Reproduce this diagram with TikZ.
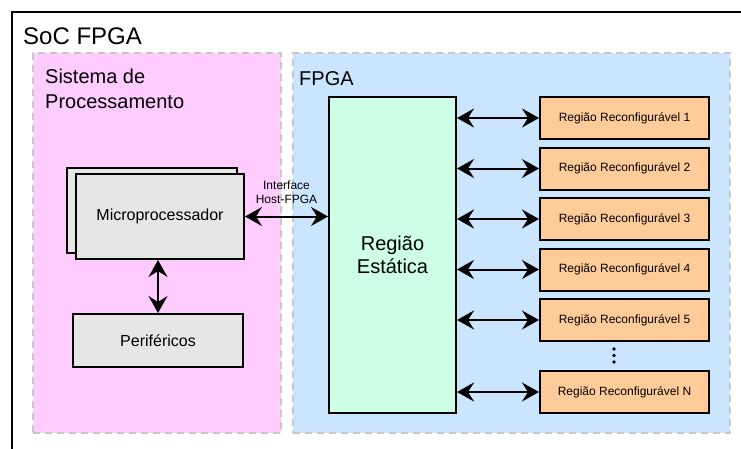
\documentclass[tikz,border=0pt]{standalone}
\usepackage{fontspec}
\setmainfont{Liberation Sans}
\usetikzlibrary{arrows.meta,calc}

\definecolor{psfill}{HTML}{FFCCFF}
\definecolor{fpgafill}{HTML}{CCE5FF}
\definecolor{refill}{HTML}{CCFFE6}
\definecolor{rrfill}{HTML}{FFCC99}
\definecolor{blkfill}{HTML}{E6E6E6}
\definecolor{arealine}{HTML}{C8C8C8}

\begin{document}
\begin{tikzpicture}[x=1pt,y=-1pt,
    area/.style={draw=arealine,line width=1.5pt,dash pattern=on 7pt off 5pt,inner sep=0pt},
    blk/.style={draw,line width=2pt,inner sep=0pt,align=center},
    ttl/.style={anchor=base west,inner sep=0pt,align=left},
    bi/.style={line width=2pt,{Stealth[length=17pt,width=19pt,inset=6pt]}-{Stealth[length=17pt,width=19pt,inset=6pt]}}]
      \useasboundingbox (0,0) rectangle (741,448);
      \clip (0,0) rectangle (741,448);

      \draw [line width=2pt] (12,12) rectangle (780,480);
      \node (SoC) [ttl,font=\fontsize{24}{28}\selectfont] at (23,44) {SoC FPGA};

      \node (SP) [area,fill=psfill,minimum width=248,minimum height=380] at (157,243) {};
      \node (SPt) [ttl,font=\fontsize{20}{25}\selectfont] at (45,108) {Sistema de\\Processamento};

      \node (FP) [area,fill=fpgafill,minimum width=437,minimum height=380] at (511.5,243) {};
      \node (FPt) [ttl,font=\fontsize{20}{25}\selectfont] at (299,85) {FPGA};

      \node (MPb) [blk,fill=blkfill,minimum width=170,minimum height=85] at (152,210.5) {};
      \node (MP) [blk,fill=blkfill,minimum width=168,minimum height=85,font=\fontsize{16}{19}\selectfont] at (160,216.5) {Microprocessador};
      \node (PER) [blk,fill=blkfill,minimum width=170,minimum height=53,font=\fontsize{16}{19}\selectfont] at (158,340.5) {Periféricos};

      \node (RE) [blk,fill=refill,minimum width=127,minimum height=316,font=\fontsize{20}{23}\selectfont] at (392.5,255) {Região\\Estática};

      \foreach \i in {1,...,5}
        \node (RR\i) [blk,fill=rrfill,minimum width=169,minimum height=42,font=\fontsize{12}{14}\selectfont] at (624.5,{118+50.5*(\i-1)}) {Região Reconfigurável \i};
      \node (RRN) [blk,fill=rrfill,minimum width=169,minimum height=42,font=\fontsize{12}{14}\selectfont] at (624.5,392) {Região Reconfigurável N};

      \foreach \d in {349,355.5,362}
        \fill (614,\d) circle (1.8);

      \draw [bi] (MP.east) to node [above=12pt,inner sep=0pt,align=center,font=\fontsize{12}{14}\selectfont] {Interface\\Host-FPGA} (MP.east -| RE.west);
      \draw [bi] (PER.north |- MP.south) to (PER.north);
      \foreach \r in {RR1,RR2,RR3,RR4,RR5,RRN}
        \draw [bi] (RE.east |- \r) to (\r.west);
\end{tikzpicture}
\end{document}
